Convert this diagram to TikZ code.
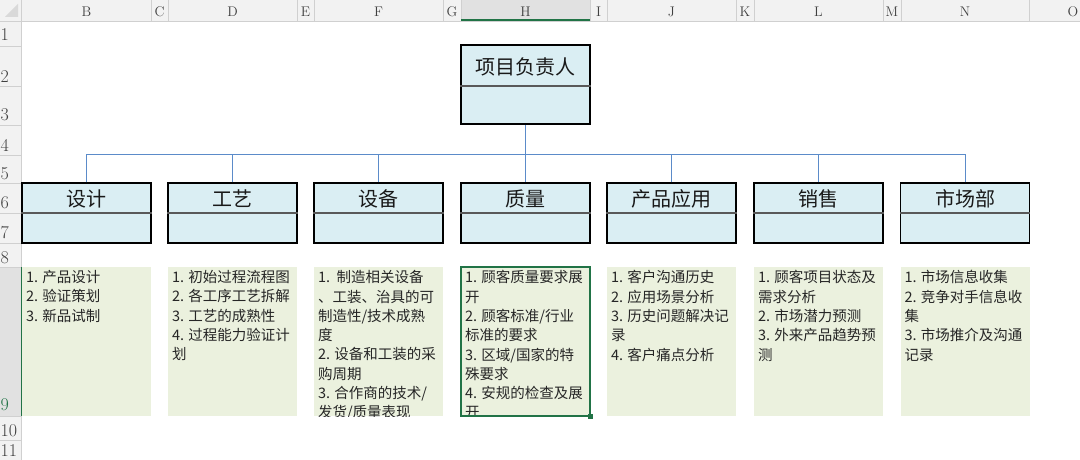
\documentclass[tikz,border=0pt]{standalone}
\usepackage{fontspec}
\usepackage{tikz}
\usetikzlibrary{calc}
\newfontfamily\cjk{Noto Sans CJK SC}

\definecolor{sheetgray}{HTML}{F2F2F2}
\definecolor{selgray}{HTML}{E1E1E1}
\definecolor{gridgray}{HTML}{D0D0D0}
\definecolor{selgreen}{HTML}{217346}
\definecolor{titleblue}{HTML}{DAEEF3}
\definecolor{noteolive}{HTML}{EBF1DE}
\definecolor{linkblue}{HTML}{5B8BC9}

\tikzset{
  deptbox/.style={draw=black, line width=1.1pt, fill=titleblue,
    minimum width=129pt, minimum height=60pt, inner sep=0pt},
  depttitle/.style={font=\cjk\fontsize{20}{20}\selectfont, text=black!90, inner sep=0pt},
  divider/.style={draw=black!65, line width=1.1pt},
  notebox/.style={fill=noteolive, minimum width=129pt, minimum height=149pt, inner sep=0pt},
  notetext/.style={font=\cjk\fontsize{14.5}{19.3}\selectfont, text=black!85,
    align=left, inner sep=0pt, anchor=north west},
  link/.style={draw=linkblue, line width=0.8pt},
  colhead/.style={font=\fontsize{14}{14}\selectfont, text=black!75},
  rowhead/.style={font=\fontsize{18}{18}\selectfont, text=black!75, anchor=base west, inner sep=0pt},
}

\begin{document}
\begin{tikzpicture}[x=1pt, y=-1pt]

  \useasboundingbox (0,0) rectangle (1080,460);

  % Sheet headers
  \fill[sheetgray] (0,0) rectangle (1080,21);
  \fill[sheetgray] (0,21) rectangle (21,460);
  \fill[selgray] (461,0) rectangle (590,21);
  \fill[selgray] (0,267) rectangle (21,416);
  \fill[black!15] (5,17) -- (18,17) -- (18,4) -- cycle;
  \draw[gridgray] (0,21) -- (1080,21);
  \draw[gridgray] (21,0) -- (21,460);
  \foreach \xs in {151,168,297,314,443,461,590,607,736,754,883,901,1029}
    \draw[gridgray] (\xs,0) -- (\xs,21);
  \foreach \ys in {46,86,125,155,183,213,243,267,416,440}
    \draw[gridgray] (0,\ys) -- (21,\ys);
  \draw[selgreen, line width=1.6pt] (461,20.2) -- (590,20.2);
  \draw[selgreen, line width=1.6pt] (21.5,267) -- (21.5,416);

  % Column letters
  \foreach \lt/\xc in {B/86.5, C/159.5, D/232.5, E/305.5, F/378.5, G/452, H/525.5,
                       I/598.5, J/671.5, K/745, L/818.5, M/892, N/965, O/1073}
    \node[colhead] (col\lt) at (\xc,11.5) {\lt};

  % Row numbers
  \foreach \rn/\yb in {1/41, 2/83, 3/121, 4/151, 5/179, 6/208, 7/238, 8/263, 10/436, 11/456}
    \node[rowhead] (row\rn) at (0.5,\yb) {\rn};
  \node[rowhead, text=selgreen] (row9) at (0.5,410) {9};

  % Project lead
  \node[deptbox, line width=1.5pt, minimum height=79pt] (lead) at (525.5,84.5) {};
  \draw[divider] (lead.west |- 0,86) -- (lead.east |- 0,86);
  \node[depttitle] (leadt) at (525.5,67) {项目负责人};

  % Departments
  \foreach \nm/\xc/\ttl in {sj/86.5/设计, gy/232.5/工艺, sb/378.5/设备, zl/525.5/质量,
                            yy/671.5/产品应用, xs/818.5/销售, sc/965/市场部} {
    \node[deptbox] (\nm) at (\xc,213) {};
    \draw[divider] (\nm.west) -- (\nm.east);
    \node[depttitle] (\nm t) at (\xc,198.5) {\ttl};
  }

  % Connectors
  \coordinate (bus) at (0,154);
  \draw[link] (sj.north |- bus) -- (sc.north |- bus);
  \foreach \nm in {sj,gy,sb,yy,xs,sc}
    \draw[link] (\nm.north) -- (\nm.north |- bus);
  \draw[link] (lead.south) -- (zl.north);

  % Task lists
  \foreach \nm/\xc in {sj/86.5, gy/232.5, sb/378.5, zl/525.5, yy/671.5, xs/818.5, sc/965}
    \node[notebox] (\nm n) at (\xc,341.5) {};

  \begin{scope}
    \clip (sjn.north west) rectangle (sjn.south east)
          (gyn.north west) rectangle (gyn.south east)
          (sbn.north west) rectangle (sbn.south east)
          (zln.north west) rectangle (zln.south east)
          (yyn.north west) rectangle (yyn.south east)
          (xsn.north west) rectangle (xsn.south east)
          (scn.north west) rectangle (scn.south east);
    \node[notetext] (sjtx) at ($(sjn.north west)+(4,3.5)$)
      {1. 产品设计\\2. 验证策划\\3. 新品试制};
    \node[notetext] (gytx) at ($(gyn.north west)+(4,3.5)$)
      {1. 初始过程流程图\\2. 各工序工艺拆解\\3. 工艺的成熟性\\4. 过程能力验证计\\划};
    \node[notetext] (sbtx) at ($(sbn.north west)+(4,3.5)$)
      {1.\ \ 制造相关设备\\、工装、治具的可\\制造性/技术成熟\\度\\2. 设备和工装的采\\购周期\\3. 合作商的技术/\\发货/质量表现};
    \node[notetext] (zltx) at ($(zln.north west)+(4,3.5)$)
      {1. 顾客质量要求展\\开\\2. 顾客标准/行业\\标准的要求\\3. 区域/国家的特\\殊要求\\4. 安规的检查及展\\开};
    \node[notetext] (yytx) at ($(yyn.north west)+(4,3.5)$)
      {1. 客户沟通历史\\2. 应用场景分析\\3. 历史问题解决记\\录\\4. 客户痛点分析};
    \node[notetext] (xstx) at ($(xsn.north west)+(4,3.5)$)
      {1. 顾客项目状态及\\需求分析\\2. 市场潜力预测\\3. 外来产品趋势预\\测};
    \node[notetext] (sctx) at ($(scn.north west)+(4,3.5)$)
      {1. 市场信息收集\\2. 竞争对手信息收\\集\\3. 市场推介及沟通\\记录};
  \end{scope}

  % Selected cell
  \draw[selgreen, line width=1.5pt] (zln.north west) rectangle (zln.south east);
  \fill[selgreen] ($(zln.south east)+(-2.5,-2.5)$) rectangle ++(5,5);

\end{tikzpicture}
\end{document}
